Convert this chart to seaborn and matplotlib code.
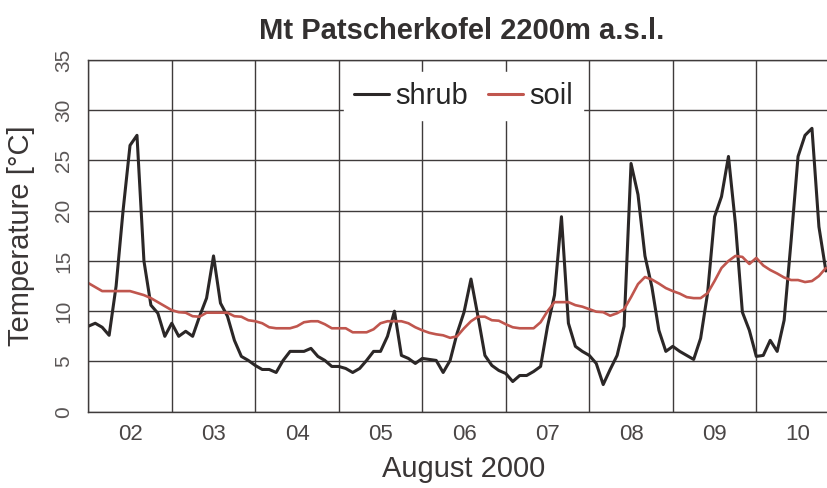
import numpy as np
import pandas as pd
import seaborn as sns
import matplotlib.pyplot as plt
from matplotlib.ticker import MultipleLocator, FixedLocator, NullFormatter

# 2-hourly readings, one list per day (Aug 2 .. Aug 10, 2000)
shrub_d02 = [8.5, 8.8, 8.4, 7.6, 12.5, 20.0, 26.5, 27.5, 15.0, 10.6, 9.8, 7.5]
shrub_d03 = [8.8, 7.5, 8.0, 7.5, 9.5, 11.3, 15.5, 10.8, 9.5, 7.1, 5.5, 5.1]
shrub_d04 = [4.6, 4.2, 4.2, 3.9, 5.1, 6.0, 6.0, 6.0, 6.3, 5.5, 5.1, 4.5]
shrub_d05 = [4.5, 4.3, 3.9, 4.3, 5.1, 6.0, 6.0, 7.5, 10.0, 5.6, 5.3, 4.8]
shrub_d06 = [5.3, 5.2, 5.1, 3.9, 5.1, 7.8, 9.9, 13.2, 9.5, 5.6, 4.6, 4.1]
shrub_d07 = [3.8, 3.0, 3.6, 3.6, 4.0, 4.5, 8.5, 11.6, 19.4, 8.8, 6.5, 6.0]
shrub_d08 = [5.6, 4.8, 2.7, 4.2, 5.6, 8.5, 24.7, 21.6, 15.5, 12.4, 8.1, 6.0]
shrub_d09 = [6.5, 6.0, 5.6, 5.2, 7.3, 11.8, 19.4, 21.4, 25.4, 18.7, 9.9, 8.1]
shrub_d10 = [5.5, 5.6, 7.1, 6.0, 9.1, 17.0, 25.4, 27.5, 28.2, 18.4, 14.0]

soil_d02 = [12.8, 12.4, 12.0, 12.0, 12.0, 12.0, 12.0, 11.8, 11.6, 11.3, 10.9, 10.5]
soil_d03 = [10.1, 9.9, 9.85, 9.5, 9.45, 9.85, 9.85, 9.85, 9.85, 9.5, 9.45, 9.1]
soil_d04 = [9.0, 8.8, 8.4, 8.3, 8.3, 8.3, 8.5, 8.9, 9.0, 9.0, 8.7, 8.3]
soil_d05 = [8.3, 8.3, 7.9, 7.9, 7.9, 8.2, 8.8, 9.0, 9.0, 9.0, 8.8, 8.4]
soil_d06 = [8.1, 7.85, 7.7, 7.6, 7.35, 7.5, 8.3, 9.0, 9.45, 9.45, 9.1, 9.05]
soil_d07 = [8.7, 8.4, 8.3, 8.3, 8.3, 8.9, 10.0, 10.9, 10.9, 10.9, 10.6, 10.45]
soil_d08 = [10.2, 9.95, 9.9, 9.55, 9.8, 10.2, 11.4, 12.7, 13.4, 13.15, 12.75, 12.3]
soil_d09 = [12.0, 11.75, 11.4, 11.3, 11.3, 11.8, 13.0, 14.3, 15.0, 15.5, 15.4, 14.7]
soil_d10 = [15.3, 14.55, 14.1, 13.75, 13.35, 13.1, 13.1, 12.9, 13.0, 13.5, 14.3]

day_labels = ["02", "03", "04", "05", "06", "07", "08", "09", "10"]

shrub = sum([shrub_d02, shrub_d03, shrub_d04, shrub_d05, shrub_d06,
             shrub_d07, shrub_d08, shrub_d09, shrub_d10], [])
soil = sum([soil_d02, soil_d03, soil_d04, soil_d05, soil_d06,
            soil_d07, soil_d08, soil_d09, soil_d10], [])
day = 2 + np.arange(len(shrub)) / 12.0   # 2-hour steps, in days of August

df = pd.concat([
    pd.DataFrame({"day": day, "temp": shrub, "series": "shrub"}),
    pd.DataFrame({"day": day, "temp": soil, "series": "soil"}),
])

sns.set_style("white")
plt.rcParams["font.family"] = ["Liberation Sans", "DejaVu Sans"]

fig = plt.figure(figsize=(8.28, 4.88), dpi=100)
ax = fig.add_axes([0.1066, 0.1564, 0.8934, 0.7207])

sns.lineplot(data=df, x="day", y="temp", hue="series", ax=ax,
             palette={"shrub": "#2b2727", "soil": "#c0564e"}, linewidth=2.2)
ax.lines[1].set_linewidth(1.9)

grid_c = "#3f3b3b"
ax.set_xlim(2, 2 + 739.7 / 83.5)
ax.set_ylim(0, 35)
ax.set_axisbelow(True)

ax.xaxis.set_major_locator(MultipleLocator(1))
ax.xaxis.set_major_formatter(NullFormatter())
ax.xaxis.set_minor_locator(FixedLocator([d + 0.5 for d in range(2, 11)]))
ax.set_xticklabels(day_labels, minor=True)
ax.yaxis.set_major_locator(MultipleLocator(5))

ax.grid(True, which="major", color=grid_c, linewidth=1.0)
ax.tick_params(axis="x", which="major", length=7, width=1.0, color=grid_c, direction="out")
ax.tick_params(axis="x", which="minor", length=0, pad=9, labelsize=16, labelcolor="#4a4646")
ax.tick_params(axis="y", length=7, width=1.0, color=grid_c, direction="out",
               pad=4, labelsize=15, labelcolor="#5a5656", labelrotation=90)
for lab in ax.get_yticklabels():
    lab.set_va("center")

for side in ["left", "bottom", "top"]:
    ax.spines[side].set_color(grid_c)
    ax.spines[side].set_linewidth(1.0)
ax.spines["right"].set_visible(False)

ax.set_xlabel("August 2000", fontsize=21, color="#3a3636")
ax.xaxis.set_label_coords(0.508, -0.122)
ax.set_ylabel("Temperature [°C]", fontsize=21, color="#3a3636")
ax.yaxis.set_label_coords(-0.072, 0.5)

fig.text(461.5 / 828, 1 - 31 / 488, "Mt Patscherkofel 2200m a.s.l.",
         ha="center", va="center", fontsize=21, fontweight="bold", color="#333030")

leg = ax.legend(loc="center", bbox_to_anchor=(463.5 / 828, 1 - 96 / 488),
                bbox_transform=fig.transFigure, ncol=2, fontsize=21,
                frameon=True, framealpha=1, facecolor="white", edgecolor="white",
                fancybox=False, handlelength=1.2, handletextpad=0.2,
                columnspacing=0.7, borderpad=0.35, title=None)
for line in leg.get_lines():
    line.set_linewidth(2.2)

fig.savefig("out.png", dpi=100)
plt.close()
